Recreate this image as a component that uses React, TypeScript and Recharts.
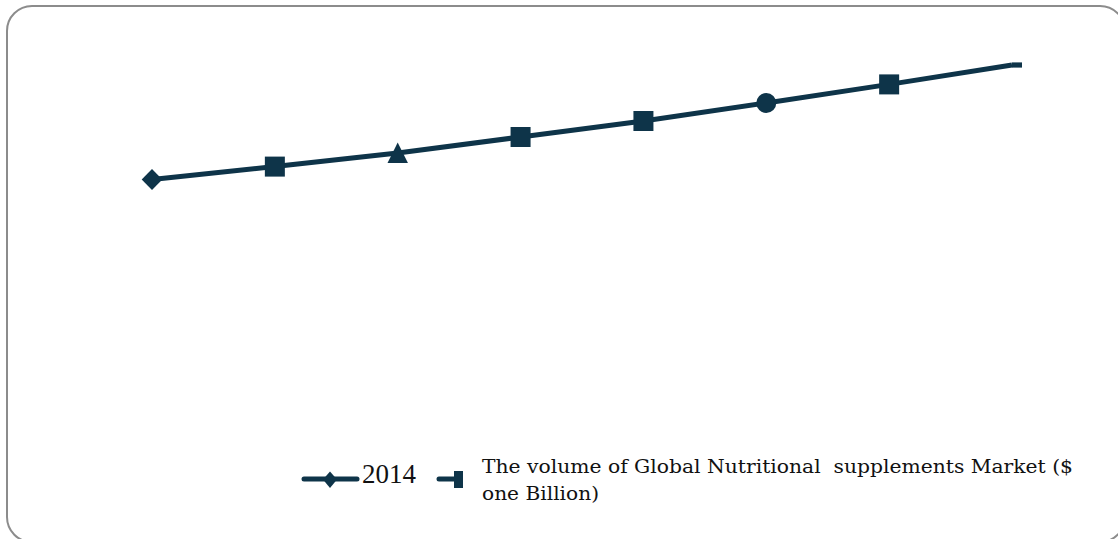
import React from "react";
import { LineChart, Line, XAxis, YAxis, Legend } from "recharts";

const years = ["2014", "2015", "2016", "2017", "2018", "2019", "2020", "2021"];
const marketValues = [130.3, 136.7, 143.5, 151.5, 159.5, 168.5, 177.8, 187.5];
const markerShapes = ["diamond", "square", "triangle", "square", "square", "circle", "square", "dash"];
const legendFirstLabel = "2014";
const legendSecondLine1 = "The volume of Global Nutritional  supplements Market ($";
const legendSecondLine2 = "one Billion)";

const data = years.map((y, i) => ({ year: y, value: marketValues[i] }));

const COLOR = "#0e3449";

const renderDot = (props: any) => {
  const { cx, cy, index } = props;
  const shape = markerShapes[index];
  const key = `dot-${index}`;
  if (cx == null || cy == null) return <g key={key} />;
  switch (shape) {
    case "diamond":
      return (
        <polygon
          key={key}
          points={`${cx},${cy - 10.5} ${cx + 10.3},${cy} ${cx},${cy + 10.5} ${cx - 10.3},${cy}`}
          fill={COLOR}
        />
      );
    case "square":
      return <rect key={key} x={cx - 10} y={cy - 10} width={20} height={20} fill={COLOR} />;
    case "triangle":
      return (
        <polygon
          key={key}
          points={`${cx},${cy - 10.5} ${cx + 10.2},${cy + 10} ${cx - 10.2},${cy + 10}`}
          fill={COLOR}
        />
      );
    case "circle":
      return <circle key={key} cx={cx} cy={cy} r={10} fill={COLOR} />;
    case "dash":
      return <rect key={key} x={cx} y={cy - 2.6} width={10} height={5.2} fill={COLOR} />;
    default:
      return <g key={key} />;
  }
};

const LegendContent = () => (
  <svg width={800} height={70} style={{ overflow: "visible", display: "block" }}>
    <line x1={4} y1={24} x2={57} y2={24} stroke={COLOR} strokeWidth={5} strokeLinecap="round" />
    <polygon points="30,16.5 37,24.5 30,33 23,24.5" fill={COLOR} />
    <text x={62} y={28} fontFamily="'Liberation Serif', serif" fontSize={27} fill="#111">
      {legendFirstLabel}
    </text>
    <line x1={139} y1={24} x2={156} y2={24} stroke={COLOR} strokeWidth={5} strokeLinecap="round" />
    <rect x={154} y={16} width={9} height={17} fill={COLOR} />
    <text
      x={182}
      y={18}
      fontFamily="'DejaVu Serif', serif"
      fontSize={18}
      fill="#111"
      textLength={591}
      lengthAdjust="spacingAndGlyphs"
      style={{ whiteSpace: "pre" }}
    >
      {legendSecondLine1}
    </text>
    <text
      x={182}
      y={45}
      fontFamily="'DejaVu Serif', serif"
      fontSize={18}
      fill="#111"
      textLength={117}
      lengthAdjust="spacingAndGlyphs"
    >
      {legendSecondLine2}
    </text>
  </svg>
);

export default function App() {
  return (
    <div
      style={{
        position: "absolute",
        left: 0,
        top: 0,
        width: 1118,
        height: 539,
        overflow: "hidden",
        background: "#fff",
      }}
    >
      <div
        style={{
          position: "absolute",
          left: 6,
          top: 5,
          width: 1120,
          height: 538,
          boxSizing: "border-box",
          border: "2px solid #8c8c8c",
          borderRadius: 26,
        }}
      />
      <div style={{ position: "absolute", left: 0, top: 0 }}>
        <LineChart width={1118} height={539} data={data} margin={{ top: 40, right: 106, left: 152, bottom: 29 }}>
          <XAxis dataKey="year" hide />
          <YAxis hide domain={[0, 200]} />
          <Legend
            content={<LegendContent />}
            wrapperStyle={{ position: "absolute", left: 300, top: 455, width: 800, height: 70 }}
          />
          <Line
            type="linear"
            dataKey="value"
            stroke={COLOR}
            strokeWidth={5}
            dot={renderDot}
            activeDot={false}
            isAnimationActive={false}
          />
        </LineChart>
      </div>
    </div>
  );
}
